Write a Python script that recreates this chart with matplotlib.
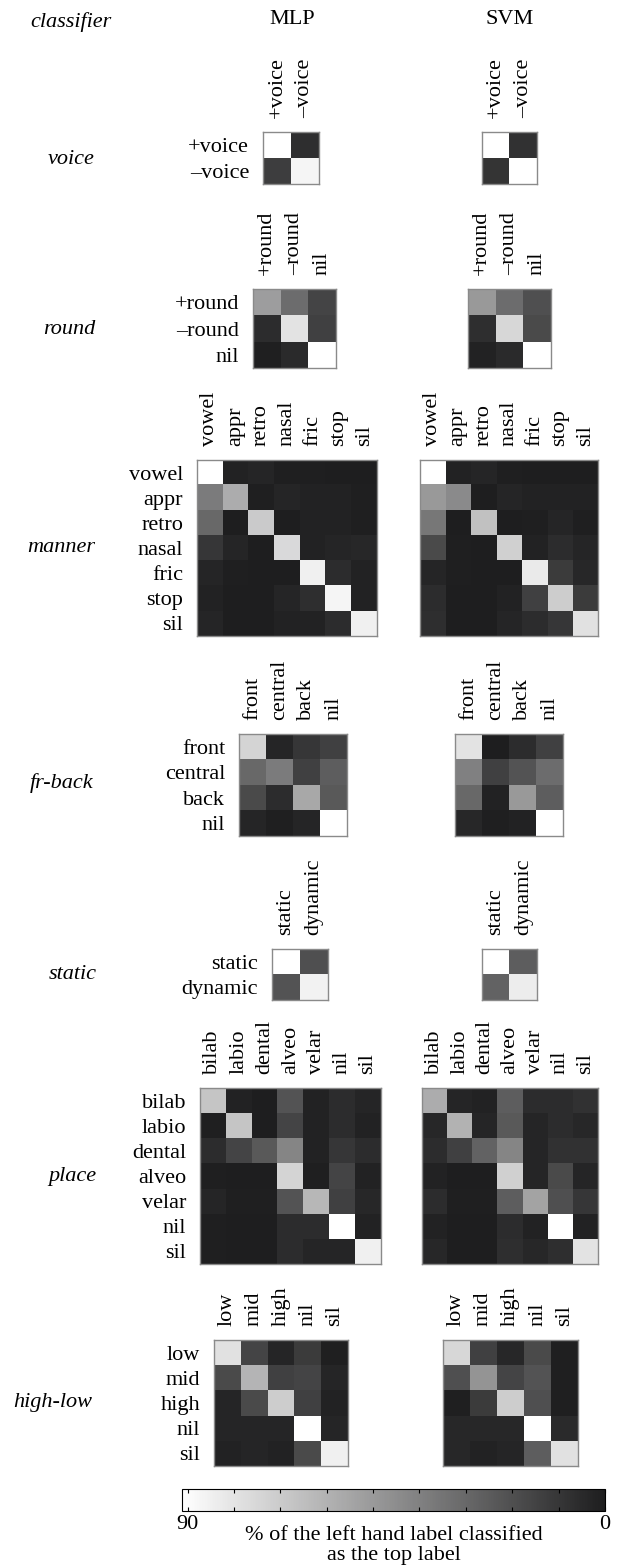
import numpy as np
import matplotlib
matplotlib.use("Agg")
import matplotlib.pyplot as plt
from matplotlib.colors import LinearSegmentedColormap, Normalize
from matplotlib.cm import ScalarMappable

plt.rcParams['font.family'] = ['Liberation Serif', 'DejaVu Serif']
plt.rcParams['font.size'] = 16

# ---- data: % of the left hand label classified as the top label ----
voice_labels = ["+voice", "\u2013voice"]
voice_mlp = [[93, 7], [13, 87]]
voice_svm = [[92, 8], [9, 91]]

round_labels = ["+round", "\u2013round", "nil"]
round_mlp = [[52, 32, 16], [6, 80, 14], [1, 5, 94]]
round_svm = [[50, 32, 20], [7, 75, 18], [2, 5, 93]]

manner_labels = ["vowel", "appr", "retro", "nasal", "fric", "stop", "sil"]
manner_mlp = [[94, 2, 3, 1, 1, 0, 0],
              [38, 58, 1, 3, 2, 2, 1],
              [30, 0, 70, 0, 2, 2, 1],
              [10, 3, 0, 76, 2, 3, 4],
              [3, 1, 0, 0, 85, 6, 2],
              [2, 0, 0, 3, 7, 87, 2],
              [3, 0, 0, 2, 2, 6, 85]]
manner_svm = [[95, 2, 3, 1, 0, 0, 0],
              [50, 44, 0, 3, 2, 2, 2],
              [36, 0, 66, 0, 1, 3, 1],
              [18, 1, 0, 72, 2, 6, 3],
              [3, 1, 0, 0, 83, 12, 4],
              [6, 0, 0, 2, 14, 71, 12],
              [7, 0, 0, 3, 6, 10, 79]]

frback_labels = ["front", "central", "back", "nil"]
frback_mlp = [[74, 3, 10, 14],
              [30, 38, 14, 26],
              [18, 6, 56, 24],
              [3, 1, 3, 93]]
frback_svm = [[80, 0, 6, 14],
              [40, 14, 22, 32],
              [30, 2, 50, 26],
              [4, 1, 2, 93]]

static_labels = ["static", "dynamic"]
static_mlp = [[92, 20], [22, 86]]
static_svm = [[92, 26], [28, 84]]

place_labels = ["bilab", "labio", "dental", "alveo", "velar", "nil", "sil"]
place_mlp = [[68, 2, 0, 22, 2, 6, 3],
             [1, 68, 0, 16, 2, 6, 2],
             [6, 16, 24, 42, 2, 10, 6],
             [1, 0, 0, 74, 1, 16, 2],
             [3, 1, 1, 22, 62, 14, 4],
             [1, 0, 0, 6, 6, 92, 2],
             [1, 0, 0, 6, 3, 3, 85]]
place_svm = [[58, 3, 2, 26, 6, 6, 8],
             [4, 60, 3, 24, 3, 6, 4],
             [6, 14, 28, 42, 3, 8, 8],
             [2, 0, 0, 72, 3, 18, 3],
             [6, 1, 1, 26, 54, 20, 10],
             [2, 0, 0, 6, 2, 92, 2],
             [4, 0, 0, 7, 4, 7, 80]]

highlow_labels = ["low", "mid", "high", "nil", "sil"]
highlow_mlp = [[79, 16, 3, 12, 1],
               [18, 61, 14, 16, 3],
               [3, 18, 71, 14, 2],
               [3, 3, 3, 92, 3],
               [2, 3, 2, 18, 85]]
highlow_svm = [[75, 14, 4, 18, 1],
               [20, 48, 16, 22, 1],
               [1, 12, 71, 20, 1],
               [4, 4, 4, 92, 5],
               [4, 2, 3, 26, 79]]

features = ["voice", "round", "manner", "fr-back", "static", "place", "high-low"]
labels = [voice_labels, round_labels, manner_labels, frback_labels,
          static_labels, place_labels, highlow_labels]
mlp = [voice_mlp, round_mlp, manner_mlp, frback_mlp, static_mlp, place_mlp, highlow_mlp]
svm = [voice_svm, round_svm, manner_svm, frback_svm, static_svm, place_svm, highlow_svm]

# ---- layout in pixels (x0, top, x1, bottom) ----
W, H = 619, 1568
mlp_box = [(263, 132, 319, 184), (253, 289, 336, 368), (197, 460, 377, 636),
           (239, 734, 347, 836), (272, 949, 328, 1000), (200, 1088, 381, 1264),
           (214, 1340, 348, 1466)]
svm_box = [(482, 132, 537, 184), (468, 289, 551, 368), (420, 460, 598, 636),
           (455, 734, 563, 836), (482, 949, 537, 1000), (422, 1088, 598, 1264),
           (443, 1340, 578, 1466)]
feat_pos = [(71, 159), (69, 330), (61, 548), (62, 783), (73, 975), (72, 1176), (53, 1402)]


def rect(b):
    x0, y0, x1, y1 = b
    return [x0 / W, 1 - y1 / H, (x1 - x0) / W, (y1 - y0) / H]


cmap = LinearSegmentedColormap.from_list("bw", ["#1e1e1f", "#ffffff"])
norm = Normalize(0, 91.2)

fig = plt.figure(figsize=(W / 100, H / 100), dpi=100)

fig.text(71 / W, 1 - 22 / H, "classifier", ha="center", va="center", style="italic")
fig.text(292 / W, 1 - 19 / H, "MLP", ha="center", va="center")
fig.text(510 / W, 1 - 19 / H, "SVM", ha="center", va="center")

for i, name in enumerate(features):
    fig.text(feat_pos[i][0] / W, 1 - feat_pos[i][1] / H, name,
             ha="center", va="center", style="italic")
    for mat, b, rowlab in [(mlp[i], mlp_box[i], True), (svm[i], svm_box[i], False)]:
        ax = fig.add_axes(rect(b))
        ax.imshow(np.array(mat), cmap=cmap, norm=norm, aspect="auto",
                  interpolation="nearest")
        n = len(labels[i])
        ax.set_xticks(range(n))
        ax.set_xticklabels(labels[i], rotation=90)
        ax.xaxis.tick_top()
        ax.set_yticks(range(n))
        if rowlab:
            ax.set_yticklabels(labels[i])
        else:
            ax.set_yticklabels([])
        ax.tick_params(length=0, pad=10)
        for s in ax.spines.values():
            s.set_color("#8a8a8a")
            s.set_linewidth(1)

# colour bar
cax = fig.add_axes(rect((182, 1489, 605, 1511)))
cb = fig.colorbar(ScalarMappable(norm=norm, cmap=cmap), cax=cax, orientation="horizontal")
cax.invert_xaxis()
ticks = np.arange(0, 91, 10)
cb.set_ticks(ticks)
cb.set_ticklabels(["0"] + [""] * 8 + ["90"])
cax.tick_params(direction="in", top=True, bottom=True, length=3, width=0.8, pad=3)
cb.outline.set_linewidth(0.8)
fig.text(394 / W, 1 - 1526 / H, "% of the left hand label classified\nas the top label",
         ha="center", va="top", linespacing=1.1)

fig.savefig("out.png", dpi=100)
